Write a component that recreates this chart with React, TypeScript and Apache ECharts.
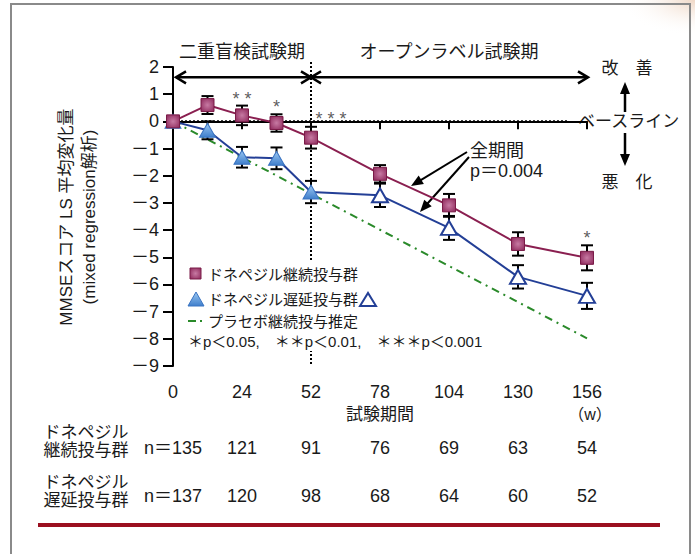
import React, { useEffect, useRef } from "react";
import * as echarts from "echarts";

// x slots: observation weeks laid out on an evenly spaced axis (blank slots between open-label visits)
const weekCategories = ["0", "12", "24", "36", "52", "", "78", "", "104", "", "130", "", "156"];
const continuousMean = [0, 0.6, 0.22, -0.06, -0.6, null, -1.93, null, -3.09, null, -4.51, null, -5.02];
const continuousErr = [null, 0.33, 0.36, 0.32, 0.4, null, 0.32, null, 0.42, null, 0.43, null, 0.46];
const delayedMean = [0, -0.33, -1.32, -1.36, -2.6, null, -2.72, null, -3.92, null, -5.72, null, -6.42];
const delayedErr = [null, 0.33, 0.38, 0.4, 0.41, null, 0.43, null, 0.44, null, 0.43, null, 0.48];
const placeboEstimate = [0, null, null, null, null, null, null, null, null, null, null, null, -7.98];
const sigMarks = ["", "", "* *", "*", "* * *", "", "", "", "", "", "", "", "*"];
const nContinuous = [135, 121, 91, 76, 69, 63, 54];
const nDelayed = [137, 120, 98, 68, 64, 60, 52];
const doubleBlindEndWeek = 52;

const FF = "'Liberation Sans', 'Noto Sans CJK JP', sans-serif";
const MAROON = "#8a1f50";
const BLUE = "#233f96";
const GREEN = "#2a8a2a";

const squareFill = () =>
  new echarts.graphic.RadialGradient(0.5, 0.5, 0.7, [
    { offset: 0, color: "#c77aa3" },
    { offset: 1, color: "#8c2558" },
  ]);
const triFill = () =>
  new echarts.graphic.LinearGradient(0, 0, 0, 1, [
    { offset: 0, color: "#9cc8f2" },
    { offset: 1, color: "#3f7fcc" },
  ]);

const everyOther = (index: number) => index % 2 === 0;

function arrowEls(x1: number, y1: number, x2: number, y2: number, head = 12, half = 5, w = 2) {
  const dx = x2 - x1, dy = y2 - y1;
  const L = Math.hypot(dx, dy);
  const ux = dx / L, uy = dy / L;
  const bx = x2 - ux * head, by = y2 - uy * head;
  return [
    { type: "line", shape: { x1, y1, x2: bx + ux * 2, y2: by + uy * 2 }, style: { stroke: "#000", lineWidth: w } },
    {
      type: "polygon",
      shape: { points: [[x2, y2], [bx - uy * half, by + ux * half], [bx + uy * half, by - ux * half]] },
      style: { fill: "#000" },
    },
  ];
}

function vHead(xt: number, yt: number, dir: number) {
  return {
    type: "polyline",
    shape: { points: [[xt - dir * 10, yt - 6], [xt, yt], [xt - dir * 10, yt + 6]] },
    style: { stroke: "#000", lineWidth: 2.5, fill: null },
  };
}

function txt(x: number, y: number, text: string, size: number, align = "center", extra: any = {}) {
  return {
    type: "text",
    x,
    y,
    style: { text, fontSize: size, fontFamily: FF, fill: "#1a1a1a", align, verticalAlign: "middle", ...extra },
  };
}

export default function App() {
  const ref = useRef<HTMLDivElement>(null);
  useEffect(() => {
    const chart = echarts.init(ref.current!, null, { renderer: "svg" });

    const errData = (mean: any[], err: any[]) =>
      mean
        .map((m, i) => (m === null || err[i] === null ? null : [i, m - err[i], m + err[i]]))
        .filter((d) => d !== null);

    const errSeries = (mean: any[], err: any[]) => ({
      type: "custom",
      z: 2,
      data: errData(mean, err),
      encode: { x: 0, y: [1, 2] },
      renderItem: (params: any, api: any) => {
        const x = api.value(0);
        const top = api.coord([x, api.value(2)]);
        const bot = api.coord([x, api.value(1)]);
        const w = 6;
        const st = { stroke: "#000", lineWidth: 2 };
        return {
          type: "group",
          children: [
            { type: "line", shape: { x1: top[0], y1: top[1], x2: bot[0], y2: bot[1] }, style: st },
            { type: "line", shape: { x1: top[0] - w, y1: top[1], x2: top[0] + w, y2: top[1] }, style: st },
            { type: "line", shape: { x1: bot[0] - w, y1: bot[1], x2: bot[0] + w, y2: bot[1] }, style: st },
          ],
        };
      },
    });

    const delayedData = delayedMean.map((v, i) => {
      if (v === null) return null;
      const wk = Number(weekCategories[i]);
      const open = wk > doubleBlindEndWeek;
      return {
        value: v,
        itemStyle: open
          ? { color: "#ffffff", borderColor: BLUE, borderWidth: 2 }
          : { color: triFill(), borderColor: "#3a74c2", borderWidth: 1 },
      };
    });

    const starData = sigMarks
      .map((m, i) =>
        m
          ? {
              value: [i, (continuousMean[i] as number) + (continuousErr[i] as number)],
              label: { formatter: m, offset: m.length > 3 ? [20, 3] : [0, 4] },
            }
          : null
      )
      .filter((d) => d !== null);

    const nAxis = (arr: number[], offset: number) => ({
      type: "category",
      data: weekCategories,
      boundaryGap: false,
      position: "bottom",
      offset,
      axisLine: { show: false },
      axisTick: { show: false },
      axisLabel: {
        interval: everyOther,
        margin: 0,
        verticalAlign: "middle",
        fontSize: 18,
        fontFamily: FF,
        color: "#1a1a1a",
        formatter: (_v: string, idx: number) => {
          const k = idx / 2;
          return k === 0 ? "n＝" + arr[k] : String(arr[k]);
        },
      },
    });

    chart.setOption({
      animation: false,
      backgroundColor: "#ffffff",
      grid: { left: 173, top: 67, width: 414, height: 299, containLabel: false },
      xAxis: [
        {
          type: "category",
          data: weekCategories,
          boundaryGap: false,
          axisLine: { show: true, lineStyle: { color: "#000", width: 2 } },
          axisTick: { show: true, interval: everyOther, length: 8, lineStyle: { color: "#000", width: 2 } },
          axisLabel: {
            interval: everyOther,
            margin: 26,
            verticalAlign: "middle",
            fontSize: 18,
            fontFamily: FF,
            color: "#1a1a1a",
          },
          splitLine: { show: false },
          name: "試験期間",
          nameLocation: "middle",
          nameGap: 46,
          nameTextStyle: { fontSize: 17, fontFamily: FF, color: "#1a1a1a", verticalAlign: "middle" },
        },
        nAxis(nContinuous, 82),
        nAxis(nDelayed, 130),
      ],
      yAxis: {
        type: "value",
        min: -9,
        max: 2,
        interval: 1,
        axisLine: { show: true, lineStyle: { color: "#000", width: 2 } },
        axisTick: { show: true, length: 10, lineStyle: { color: "#000", width: 2 } },
        axisLabel: {
          margin: 14,
          fontSize: 18,
          fontFamily: FF,
          color: "#1a1a1a",
          formatter: (v: number) => (v < 0 ? "－" + Math.abs(v) : String(v)),
        },
        splitLine: { show: false },
      },
      series: [
        {
          name: "プラセボ継続投与推定",
          type: "line",
          z: 1,
          data: placeboEstimate,
          connectNulls: true,
          symbol: "none",
          lineStyle: { color: GREEN, width: 2, type: [8, 5, 2, 5] },
        },
        errSeries(continuousMean, continuousErr),
        errSeries(delayedMean, delayedErr),
        {
          name: "ドネペジル遅延投与群",
          type: "line",
          z: 3,
          data: delayedData,
          connectNulls: true,
          showAllSymbol: true,
          symbol: "triangle",
          symbolSize: [16, 14],
          lineStyle: { color: BLUE, width: 2 },
        },
        {
          name: "ドネペジル継続投与群",
          type: "line",
          z: 4,
          data: continuousMean,
          connectNulls: true,
          showAllSymbol: true,
          symbol: "rect",
          symbolSize: 13,
          itemStyle: { color: squareFill(), borderColor: "#7a1c48", borderWidth: 1 },
          lineStyle: { color: MAROON, width: 2 },
        },
        {
          type: "scatter",
          z: 5,
          symbolSize: 0,
          data: starData,
          label: { show: true, position: "top", distance: 2, fontSize: 18, fontFamily: FF, color: "#333" },
        },
      ],
    });

    const P = (i: number, v: number) =>
      chart.convertToPixel({ xAxisIndex: 0, yAxisIndex: 0 }, [i, v]) as number[];
    const p0 = P(0, 0);
    const p52 = P(4, 0);
    const p156 = P(12, 0);
    const pBottom = P(4, -9);
    const arrowY = P(0, 1.62)[1];
    const baseY = p0[1];

    const graphics: any[] = [
      {
        type: "rect",
        z: -10,
        shape: { x: 620, y: 0, width: 75, height: 36 },
        style: {
          fill: new echarts.graphic.RadialGradient(1, 0, 1, [
            { offset: 0, color: "rgba(236,206,184,0.8)" },
            { offset: 1, color: "rgba(255,255,255,0)" },
          ]),
        },
      },
      {
        type: "rect",
        shape: { x: 11, y: 4, width: 679, height: 580 },
        style: { fill: null, stroke: "#8a8a8a", lineWidth: 2 },
      },
      txt((p0[0] + p52[0]) / 2, 52, "二重盲検試験期", 18),
      txt((p52[0] + p156[0]) / 2, 52, "オープンラベル試験期", 18),
      { type: "line", z: 0, shape: { x1: p52[0], y1: 62, x2: p52[0], y2: pBottom[1] }, style: { stroke: "#000", lineWidth: 2, lineDash: [2, 2] } },
      { type: "line", shape: { x1: p0[0] + 3, y1: arrowY, x2: p156[0] + 1, y2: arrowY }, style: { stroke: "#000", lineWidth: 2.5 } },
      vHead(p0[0] + 3, arrowY, -1),
      vHead(p52[0], arrowY, 1),
      vHead(p52[0], arrowY, -1),
      vHead(p156[0] + 1, arrowY, 1),
      { type: "line", shape: { x1: p0[0], y1: baseY, x2: 568, y2: baseY }, style: { stroke: "#000", lineWidth: 2, lineDash: [2, 2] } },
      txt(578, baseY, "ベースライン", 17, "left"),
      txt(627, 68, "改　善", 17),
      ...arrowEls(625, 112, 625, 82, 12, 5, 2.5),
      ...arrowEls(625, 133, 625, 166, 12, 5, 2.5),
      txt(627, 182, "悪　化", 17),
      txt(470, 151, "全期間", 18, "left"),
      txt(470, 171, "p＝0.004", 18, "left"),
      ...arrowEls(467, 152, 411, 186, 12, 5, 2),
      ...arrowEls(469, 157, 420, 212, 12, 5, 2),
      // legend (white box covers the dotted 52-week line)
      { type: "rect", shape: { x: 184, y: 262, width: 294, height: 89 }, style: { fill: "#ffffff" } },
      { type: "rect", shape: { x: 190, y: 268, width: 11, height: 11 }, style: { fill: squareFill(), stroke: "#7a1c48", lineWidth: 1 } },
      txt(208, 274, "ドネペジル継続投与群", 15, "left"),
      { type: "polygon", shape: { points: [[188, 306], [204, 306], [196, 292]] }, style: { fill: triFill(), stroke: "#3a74c2", lineWidth: 1 } },
      txt(208, 299, "ドネペジル遅延投与群", 15, "left"),
      { type: "polygon", shape: { points: [[360, 306], [376, 306], [368, 293]] }, style: { fill: "#fff", stroke: BLUE, lineWidth: 2 } },
      { type: "line", shape: { x1: 188, y1: 321, x2: 196, y2: 321 }, style: { stroke: GREEN, lineWidth: 2 } },
      { type: "line", shape: { x1: 200, y1: 321, x2: 202, y2: 321 }, style: { stroke: GREEN, lineWidth: 2 } },
      txt(208, 321, "プラセボ継続投与推定", 15, "left"),
      txt(188, 341, "＊p＜0.05,　＊＊p＜0.01,　＊＊＊p＜0.001", 15, "left"),
      // y-axis title
      {
        type: "text",
        x: 78,
        y: 217,
        rotation: Math.PI / 2,
        style: {
          text: "MMSEスコア LS 平均変化量\n(mixed regression解析)",
          fontSize: 17,
          fontFamily: FF,
          fill: "#1a1a1a",
          align: "center",
          verticalAlign: "middle",
          lineHeight: 23,
        },
      },
      txt(p156[0] + 3, 414, "（w）", 16),
      txt(86, 432, "ドネペジル", 17),
      txt(86, 450, "継続投与群", 17),
      txt(86, 482, "ドネペジル", 17),
      txt(86, 500, "遅延投与群", 17),
      { type: "rect", shape: { x: 38, y: 523, width: 622, height: 4 }, style: { fill: "#9b1020" } },
    ];
    chart.setOption({ graphic: graphics });

    return () => chart.dispose();
  }, []);
  return (
    <div
      ref={ref}
      style={{ position: "fixed", left: 0, top: 0, width: 695, height: 554, background: "#fff" }}
    />
  );
}
